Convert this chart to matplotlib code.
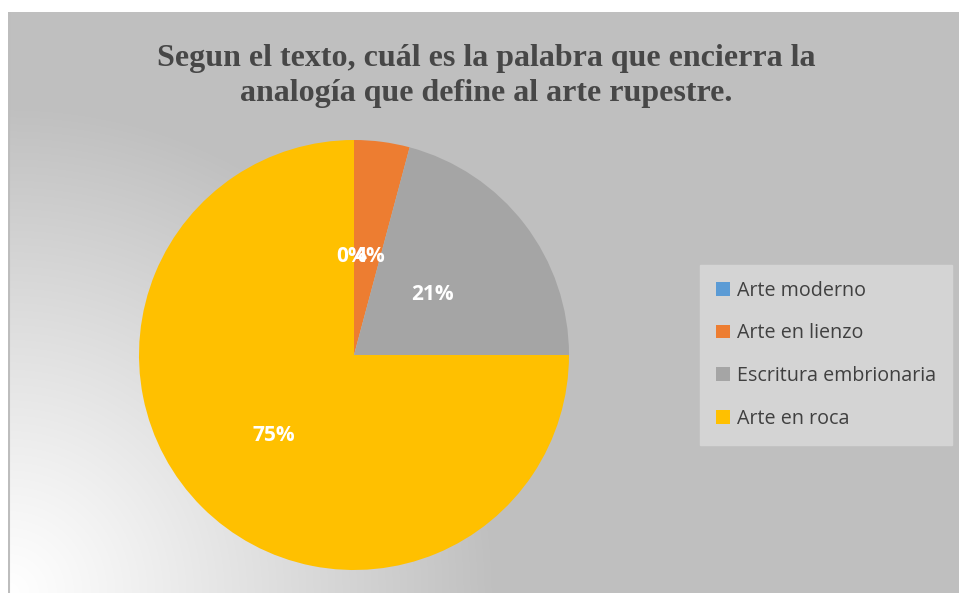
import matplotlib.pyplot as plt
import numpy as np

# data
categories = ['Arte moderno', 'Arte en lienzo', 'Escritura embrionaria', 'Arte en roca']
counts = [0, 1, 5, 18]
pct_labels = ['0%', '4%', '21%', '75%']
colors = ['#5B9BD5', '#ED7D31', '#A5A5A5', '#FFC000']
title = 'Segun el texto, cuál es la palabra que encierra la\nanalogía que define al arte rupestre.'

W, H = 959, 593
fig = plt.figure(figsize=(W / 100, H / 100), dpi=100)
fig.patch.set_facecolor('white')

# background with radial gradient from bottom-left
x0, y0 = 8, 12
bg = fig.add_axes([x0 / W, 0, (W - x0) / W, (H - y0) / H])
bw, bh = W - x0, H - y0
yy, xx = np.mgrid[0:bh, 0:bw]
d = np.sqrt(xx ** 2 + (bh - yy) ** 2) / 490.0
d = np.clip(d, 0, 1)
lo, hi = 1.0, 0xbf / 255
g = lo + (hi - lo) * d ** 1.1
bg.imshow(np.dstack([g, g, g]), aspect='auto', extent=[0, bw, bh, 0])
bg.set_xlim(0, bw)
bg.set_ylim(bh, 0)
bg.axis('off')
bg.axvline(0.5, color='#bdbdbd', lw=1.5)

# pie
cx, cy, r = 354, 355, 215
ax = fig.add_axes([(cx - r) / W, (H - cy - r) / H, 2 * r / W, 2 * r / H])
wedges, _ = ax.pie(counts, colors=colors, startangle=90, counterclock=False,
                   radius=1, wedgeprops=dict(linewidth=0))
ax.set_xlim(-1, 1)
ax.set_ylim(-1, 1)
ax.set_aspect('auto')
ax.axis('off')

# 0% and 4% overlap, as in the original
offsets = [(-0.01, 0.0), (0.015, 0.0), (0.0, 0.0), (0.0, 0.0)]
for w, lab, off in zip(wedges, pct_labels, offsets):
    ang = np.deg2rad((w.theta1 + w.theta2) / 2)
    rr = 0.46 if lab != '75%' else 0.53
    ax.text(rr * np.cos(ang) + off[0], rr * np.sin(ang) + off[1], lab,
            ha='center', va='center', color='white', fontsize=15,
            fontweight='bold', family='Open Sans')

fig.text(486 / W, 1 - 76 / H, title, ha='center', va='center',
         fontsize=23, fontweight='bold', family='Liberation Serif',
         color='#474747', linespacing=1.3)

leg = fig.legend(wedges, categories, loc='upper left',
                 bbox_to_anchor=(700 / W, 1 - 265 / H), frameon=True,
                 fancybox=False, facecolor='#d4d4d4', edgecolor='#d4d4d4',
                 framealpha=1, handlelength=0.7, handleheight=0.7,
                 handletextpad=0.4, labelspacing=1.15, borderpad=0.8,
                 borderaxespad=0, prop=dict(family='Open Sans', size=14.2))
for t in leg.get_texts():
    t.set_color('#404040')

fig.savefig('out.png', dpi=100)
